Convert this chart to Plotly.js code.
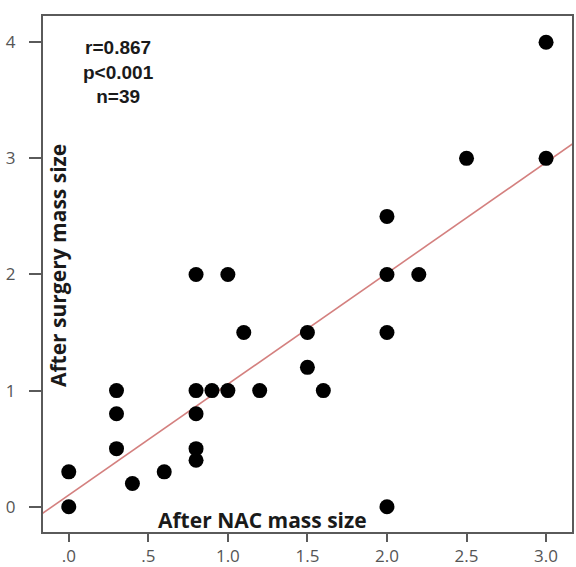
<!DOCTYPE html>
<html>
<head>
<meta charset="utf-8">
<script src="https://cdn.plot.ly/plotly-3.0.1.min.js"></script>
<style>
  html, body { margin: 0; padding: 0; background: #fff; }
  #chart { width: 576px; height: 567px; }
</style>
</head>
<body>
<div id="chart"></div>
<script>
// After NAC mass size (x) vs After surgery mass size (y); overlapping points drawn once
const nacSize = [0, 0, 0.3, 0.3, 0.3, 0.4, 0.6, 0.8, 0.8, 0.8, 0.8, 0.8, 0.9, 1.0, 1.0, 1.1, 1.2, 1.5, 1.5, 1.6, 2.0, 2.0, 2.0, 2.0, 2.2, 2.5, 3.0, 3.0];
const surgerySize = [0, 0.3, 1.0, 0.8, 0.5, 0.2, 0.3, 2.0, 1.0, 0.8, 0.5, 0.4, 1.0, 2.0, 1.0, 1.5, 1.0, 1.5, 1.2, 1.0, 2.5, 2.0, 1.5, 0, 2.0, 3.0, 4.0, 3.0];

// Linear fit line
const fitIntercept = 0.10;
const fitSlope = 0.955;
const fitX = [-0.2, 3.2];
const fitY = fitX.map(x => fitIntercept + fitSlope * x);

const xTickVals = [0, 0.5, 1.0, 1.5, 2.0, 2.5, 3.0];
const xTickText = ['.0', '.5', '1.0', '1.5', '2.0', '2.5', '3.0'];
const yTickVals = [0, 1, 2, 3, 4];
const yTickText = ['0', '1', '2', '3', '4'];

const statsText = ['r=0.867', 'p<0.001', 'n=39'];
const xTitle = 'After NAC mass size';
const yTitle = 'After surgery mass size';

const traces = [
  {
    x: fitX, y: fitY, mode: 'lines', type: 'scatter',
    line: { color: '#d4807f', width: 1.6 },
    hoverinfo: 'skip', showlegend: false
  },
  {
    x: nacSize, y: surgerySize, mode: 'markers', type: 'scatter',
    marker: { color: '#000', size: 15, line: { width: 0 } },
    showlegend: false
  }
];

const axisCommon = {
  showgrid: false, zeroline: false,
  showline: true, mirror: true, linecolor: '#5a5a5a', linewidth: 2,
  ticks: 'outside', tickwidth: 2, tickcolor: '#5a5a5a',
  tickfont: { family: 'Open Sans, sans-serif', size: 17, color: '#555' },
  fixedrange: true
};

const layout = {
  width: 576, height: 567,
  margin: { l: 43, r: 4, t: 16, b: 35 },
  paper_bgcolor: '#fff', plot_bgcolor: '#fff',
  showlegend: false,
  xaxis: Object.assign({}, axisCommon, {
    range: [-0.162, 3.163], ticklen: 8, ticklabelstandoff: 0,
    tickmode: 'array', tickvals: xTickVals, ticktext: xTickText
  }),
  yaxis: Object.assign({}, axisCommon, {
    range: [-0.218, 4.226], ticklen: 12, ticklabelstandoff: 10,
    tickmode: 'array', tickvals: yTickVals, ticktext: yTickText
  }),
  annotations: [
    {
      text: '<b>' + statsText.join('<br>') + '</b>',
      xref: 'paper', yref: 'paper', x: 0.142, y: 0.963,
      xanchor: 'center', yanchor: 'top', showarrow: false, align: 'center',
      font: { family: 'Liberation Sans, Arial, sans-serif', size: 19, color: '#1a1a1a' }
    },
    {
      text: '<b>' + xTitle + '</b>',
      xref: 'paper', yref: 'paper', x: 0.414, y: 0.023,
      xanchor: 'center', yanchor: 'middle', showarrow: false,
      font: { family: 'Open Sans, sans-serif', size: 21, color: '#1a1a1a' }
    },
    {
      text: '<b>' + yTitle + '</b>',
      xref: 'paper', yref: 'paper', x: 0.028, y: 0.517,
      xanchor: 'center', yanchor: 'middle', showarrow: false, textangle: -90,
      font: { family: 'Open Sans, sans-serif', size: 21, color: '#1a1a1a' }
    }
  ]
};

Plotly.newPlot('chart', traces, layout, { displayModeBar: false, staticPlot: true });
</script>
</body>
</html>
